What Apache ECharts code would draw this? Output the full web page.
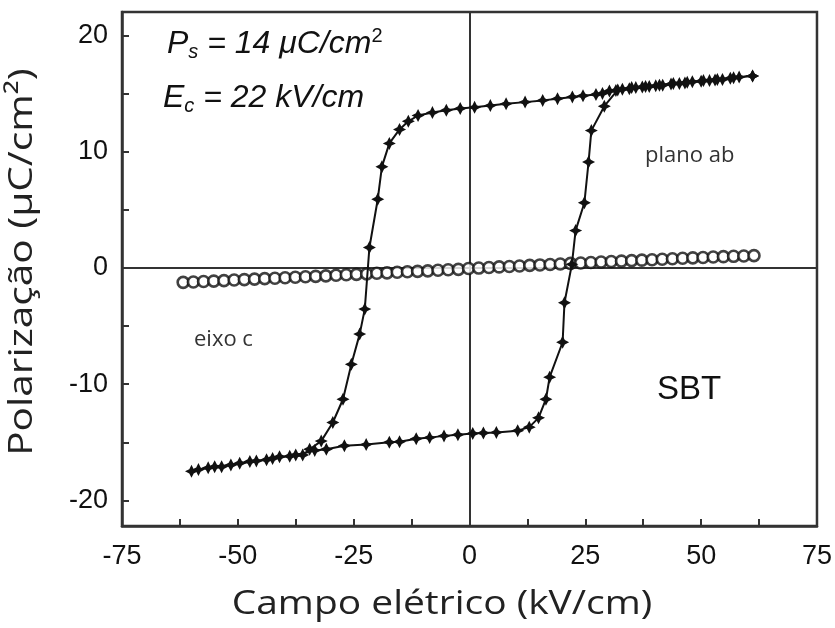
<!DOCTYPE html>
<html>
<head>
<meta charset="utf-8">
<script src="https://cdn.jsdelivr.net/npm/echarts@6/dist/echarts.min.js"></script>
<style>
  html, body { margin: 0; padding: 0; background: #fff; }
  #chart { width: 835px; height: 628px; }
</style>
</head>
<body>
<div id="chart"></div>
<script>
// Hysteresis loop of SBT measured in the ab plane (field E in kV/cm, polarization P in µC/cm²)
const loopE = [
  61.1, 58.2, 56.3, 54.6, 53.0, 51.8, 50.0, 48.1, 46.5, 45.3, 43.5, 41.7, 40.2, 38.8, 37.3, 35.9,
  34.5, 33.0, 31.6, 30.2, 28.7, 27.3, 24.5, 22.2, 19.0, 15.8, 12.0, 7.9, 4.5, 1.1, -2.0, -5.0,
  -8.0, -11.1, -13.2, -15.1, -17.3, -18.9, -19.8, -21.6, -22.6, -23.7, -25.5, -27.3, -29.5, -32.0,
  -34.5, -36.0, -38.8, -41.0, -43.8, -47.4, -49.6, -53.5, -56.4, -60.0,
  -58.5, -55.0, -51.5, -46.0, -42.5, -37.5, -33.4, -30.9, -27.0, -22.3, -17.3, -15.1, -11.5, -8.6,
  -5.5, -2.5, 0.7, 3.0, 5.8, 10.4, 12.9, 14.9, 16.5, 17.3, 20.1, 20.5, 22.1, 22.9, 24.8, 25.7,
  26.3, 29.1, 32.0, 35.0, 38.0, 41.0, 44.0, 47.0, 50.5, 53.5, 57.0, 61.1
];
const loopP = [
  16.5, 16.4, 16.3, 16.2, 16.15, 16.1, 16.05, 16.0, 15.9, 15.85, 15.8, 15.7, 15.65, 15.6, 15.55, 15.5,
  15.4, 15.35, 15.25, 15.2, 15.0, 14.9, 14.8, 14.7, 14.55, 14.4, 14.25, 14.1, 13.95, 13.8, 13.7, 13.55,
  13.35, 13.1, 12.6, 11.9, 10.7, 8.7, 5.9, 1.75, -3.55, -5.7, -8.3, -11.3, -13.3, -14.9,
  -15.6, -16.1, -16.2, -16.25, -16.5, -16.65, -16.8, -17.1, -17.2, -17.5,
  -17.35, -17.1, -16.95, -16.6, -16.4, -16.1, -15.7, -15.6, -15.3, -15.2, -15.0, -14.95, -14.7, -14.6,
  -14.45, -14.35, -14.25, -14.2, -14.15, -14.0, -13.7, -12.9, -11.3, -9.4, -6.4, -3.0, 0.3, 3.2, 5.6, 9.1,
  11.8, 13.9, 15.3, 15.5, 15.6, 15.7, 15.85, 15.95, 16.1, 16.2, 16.35, 16.5
];

// Linear response along the c axis
const cAxisE = [
  -61.8, -59.6, -57.4, -55.2, -53.0, -50.8, -48.6, -46.4, -44.2, -42.0,
  -39.8, -37.6, -35.4, -33.2, -31.0, -28.8, -26.6, -24.4, -22.2, -20.0,
  -17.8, -15.6, -13.4, -11.2, -9.0, -6.8, -4.6, -2.4, -0.2, 2.0,
  4.2, 6.4, 8.6, 10.8, 13.0, 15.2, 17.4, 19.6, 21.8, 24.0,
  26.2, 28.4, 30.6, 32.8, 35.0, 37.2, 39.4, 41.6, 43.8, 46.0,
  48.2, 50.4, 52.6, 54.8, 57.0, 59.2, 61.4
];
const cAxisP = [
  -1.25, -1.22, -1.18, -1.14, -1.10, -1.05, -1.01, -0.97, -0.93, -0.89,
  -0.85, -0.81, -0.77, -0.73, -0.69, -0.64, -0.60, -0.56, -0.52, -0.47,
  -0.43, -0.38, -0.34, -0.30, -0.26, -0.21, -0.17, -0.13, -0.06, -0.02,
  0.03, 0.08, 0.12, 0.16, 0.21, 0.25, 0.29, 0.33, 0.38, 0.42,
  0.46, 0.50, 0.54, 0.58, 0.62, 0.66, 0.70, 0.74, 0.78, 0.82,
  0.86, 0.89, 0.93, 0.96, 0.99, 1.02, 1.05
];

// Axis ticks and labels
const xLabels = [-75, -50, -25, 0, 25, 50, 75];
const yTicks = [-20, -15, -10, -5, 0, 5, 10, 15, 20];
const yLabels = [-20, -10, 0, 10, 20];
const xTitle = 'Campo elétrico (kV/cm)';
const yTitle = 'Polarização (μC/cm²)';

const starSymbol = 'path://M0,-10 L3.4,-3.4 L10,0 L3.4,3.4 L0,10 L-3.4,3.4 L-10,0 L-3.4,-3.4 Z';

const chart = echarts.init(document.getElementById('chart'), null, { renderer: 'canvas' });

const titleFont = { fontFamily: 'Open Sans', fontSize: 33, fill: '#222', align: 'center', verticalAlign: 'middle' };

const option = {
  animation: false,
  backgroundColor: '#ffffff',
  grid: {
    left: 122, right: 17, top: 12, bottom: 102,
    show: true, borderColor: '#333', borderWidth: 2.5, backgroundColor: 'transparent'
  },
  xAxis: {
    type: 'value',
    min: -75, max: 75, interval: 12.5,
    axisLine: { show: true, onZero: false, lineStyle: { color: '#333', width: 2.5 } },
    axisTick: { show: true, inside: true, length: 7, lineStyle: { color: '#333', width: 2 } },
    axisLabel: {
      customValues: xLabels, margin: 17,
      fontFamily: 'Liberation Sans', fontSize: 27, color: '#111'
    },
    splitLine: { show: false }
  },
  yAxis: {
    type: 'value',
    min: -22.2, max: 22,
    axisLine: { show: true, onZero: false, lineStyle: { color: '#333', width: 2.5 } },
    axisTick: { show: true, inside: true, length: 7, customValues: yTicks, lineStyle: { color: '#333', width: 2 } },
    axisLabel: {
      customValues: yLabels, margin: 14,
      fontFamily: 'Liberation Sans', fontSize: 27, color: '#111'
    },
    splitLine: { show: false }
  },
  graphic: [
    {
      type: 'text', x: 442, y: 605, scaleX: 1.18, z: 10,
      style: Object.assign({ text: xTitle }, titleFont)
    },
    {
      type: 'text', x: 23, y: 262, rotation: Math.PI / 2, scaleX: 1.23, z: 10,
      style: Object.assign({ text: yTitle }, titleFont)
    },
    {
      type: 'text', left: 167, top: 26, z: 10,
      style: {
        text: '{i|P}{sub|s}{i| = 14 }{i|μ}{i|C/cm}{sup|2}',
        rich: {
          i: { fontFamily: 'Liberation Sans', fontStyle: 'italic', fontSize: 32, fill: '#111' },
          sub: { fontFamily: 'Liberation Sans', fontStyle: 'italic', fontSize: 20, fill: '#111', padding: [16, 0, 0, 0] },
          sup: { fontFamily: 'Liberation Sans', fontSize: 20, fill: '#111', padding: [0, 0, 16, 0] }
        }
      }
    },
    {
      type: 'text', left: 163, top: 82, z: 10,
      style: {
        text: '{i|E}{sub|c}{i| = 22 kV/cm}',
        rich: {
          i: { fontFamily: 'Liberation Sans', fontStyle: 'italic', fontSize: 32, fill: '#111' },
          sub: { fontFamily: 'Liberation Sans', fontStyle: 'italic', fontSize: 20, fill: '#111', padding: [16, 0, 0, 0] }
        }
      }
    },
    {
      type: 'text', left: 645, top: 145, z: 10,
      style: { text: 'plano ab', fontFamily: 'Open Sans', fontSize: 22, fill: '#333' }
    },
    {
      type: 'text', left: 194, top: 329, z: 10,
      style: { text: 'eixo c', fontFamily: 'Open Sans', fontSize: 22, fill: '#333' }
    },
    {
      type: 'text', left: 657, top: 373, z: 10,
      style: { text: 'SBT', fontFamily: 'Liberation Sans', fontSize: 33, fill: '#111' }
    }
  ],
  series: [
    {
      name: 'eixo c',
      type: 'scatter',
      data: cAxisE.map((e, i) => [e, cAxisP[i]]),
      symbol: 'circle', symbolSize: 11,
      itemStyle: { color: '#ffffff', borderColor: '#111', borderWidth: 2.6 },
      z: 3,
      markLine: {
        silent: true, symbol: 'none', label: { show: false },
        lineStyle: { color: '#333', width: 2, type: 'solid' },
        data: [{ xAxis: 0 }, { yAxis: 0 }],
        z: 1
      }
    },
    {
      name: 'plano ab',
      type: 'line',
      data: loopE.map((e, i) => [e, loopP[i]]),
      symbol: starSymbol, symbolSize: 13,
      lineStyle: { color: '#111', width: 2 },
      itemStyle: { color: '#111' },
      z: 4
    }
  ]
};

chart.setOption(option);
</script>
</body>
</html>
